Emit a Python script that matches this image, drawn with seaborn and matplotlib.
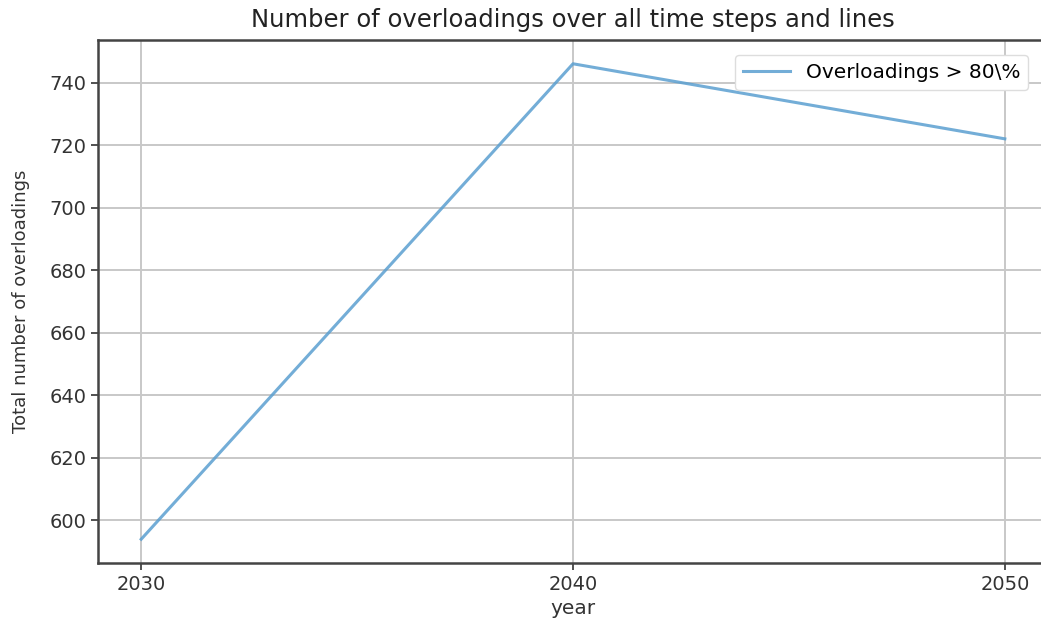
import pandas as pd
import matplotlib
matplotlib.use('Agg')
import matplotlib.pyplot as plt
import seaborn as sns

# Data
years = [2030, 2040, 2050]
overloadings = [594, 746, 722]
series_label = 'Overloadings > 80\\%'

df = pd.DataFrame({'year': years, 'overloadings': overloadings})

plt.rcParams['font.family'] = ['DejaVu Sans']

fig = plt.figure(figsize=(10.41, 6.24), dpi=100)
ax = fig.add_axes([98 / 1041, 1 - 563 / 624, 950 / 1041, 523 / 624])

sns.lineplot(data=df, x='year', y='overloadings', ax=ax, color='#5b9fd0',
             alpha=0.85, linewidth=2.2, label=series_label)

ax.set_xticks(years)
ax.set_yticks(range(600, 741, 20))
ax.grid(True, color='#c8c8c8', linewidth=1.4)
for s in ax.spines.values():
    s.set_color('#444444')
    s.set_linewidth(1.8)
ax.tick_params(labelsize=14, colors='#333333', length=5, width=1.2)
ax.set_title('Number of overloadings over all time steps and lines', fontsize=17.5,
             color='#222222', pad=9)
ax.set_xlabel('year', fontsize=14.5, color='#333333', labelpad=4)
ax.set_ylabel('Total number of overloadings', fontsize=13, color='#333333',
              labelpad=14)
ax.legend(loc='upper right', fontsize=14.5, framealpha=1, edgecolor='#dddddd',
          bbox_to_anchor=(0.99, 0.99), handlelength=2.3)

fig.savefig('out.png', dpi=100)
